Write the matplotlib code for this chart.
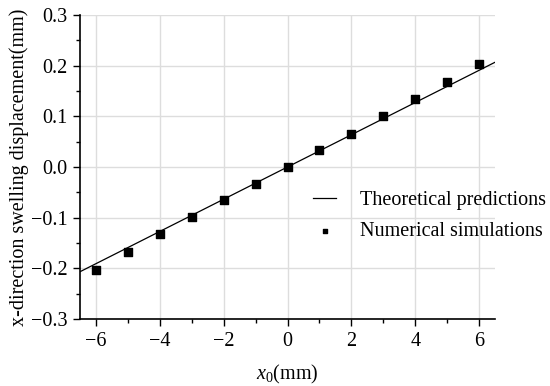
import matplotlib
matplotlib.use('Agg')
import matplotlib.pyplot as plt
import numpy

# Data
x_theory = [-6.5, 6.5]
slope = 0.0318
x_sim = [-6, -5, -4, -3, -2, -1, 0, 1, 2, 3, 4, 5, 6]
y_sim = [-0.204, -0.168, -0.133, -0.099, -0.066, -0.033, 0.0,
         0.033, 0.066, 0.100, 0.134, 0.168, 0.204]
x_ticks = [-6, -4, -2, 0, 2, 4, 6]
y_ticks = [-0.3, -0.2, -0.1, 0.0, 0.1, 0.2, 0.3]

matplotlib.rc('font', family='Liberation Serif', size=14.5)
matplotlib.rc('mathtext', fontset='custom', rm='Liberation Serif', it='Liberation Serif:italic')

fig = plt.figure(figsize=(5.5, 3.86), dpi=100, facecolor='w')
ax = fig.add_axes([80 / 550, 1 - 319 / 386, 415 / 550, 304 / 386])

ax.plot(x_theory, [slope * v for v in x_theory], color='k', linewidth=0.9,
        label='Theoretical predictions')
ax.scatter(x_sim, y_sim, marker='s', s=28, color='k', label='Numerical simulations', zorder=3)

ax.set_xlim(-6.5, 6.5)
ax.set_ylim(-0.3, 0.3)
ax.set_xticks(x_ticks)
ax.set_yticks(y_ticks)
ax.set_xticks([-5, -3, -1, 1, 3, 5], minor=True)
ax.set_yticks([-0.25, -0.15, -0.05, 0.05, 0.15, 0.25], minor=True)
ax.set_yticklabels(['\u22120.3', '\u22120.2', '\u22120.1', '0.0', '0.1', '0.2', '0.3'])
ax.set_xticklabels(['\u22126', '\u22124', '\u22122', '0', '2', '4', '6'])
ax.tick_params(which='major', direction='out', length=5, width=1, pad=4)
ax.tick_params(which='minor', direction='out', length=3, width=1)
ax.grid(True, which='major', color='#dddddd', linewidth=1)
ax.set_axisbelow(True)
for side in ['top', 'right']:
    ax.spines[side].set_visible(False)
for side in ['left', 'bottom']:
    ax.spines[side].set_linewidth(1.2)

ax.set_xlabel('$x_0$(mm)', labelpad=9)
ax.set_ylabel('x-direction swelling displacement(mm)', labelpad=1)

fig.legend(loc='center left', bbox_to_anchor=(313 / 550, 1 - 216 / 386), frameon=False,
           borderpad=0, borderaxespad=0, handlelength=1.15, handletextpad=1.2,
           labelspacing=0.6, markerscale=0.6, fontsize=14.5)

plt.savefig('out.png', dpi=100)
plt.close()
